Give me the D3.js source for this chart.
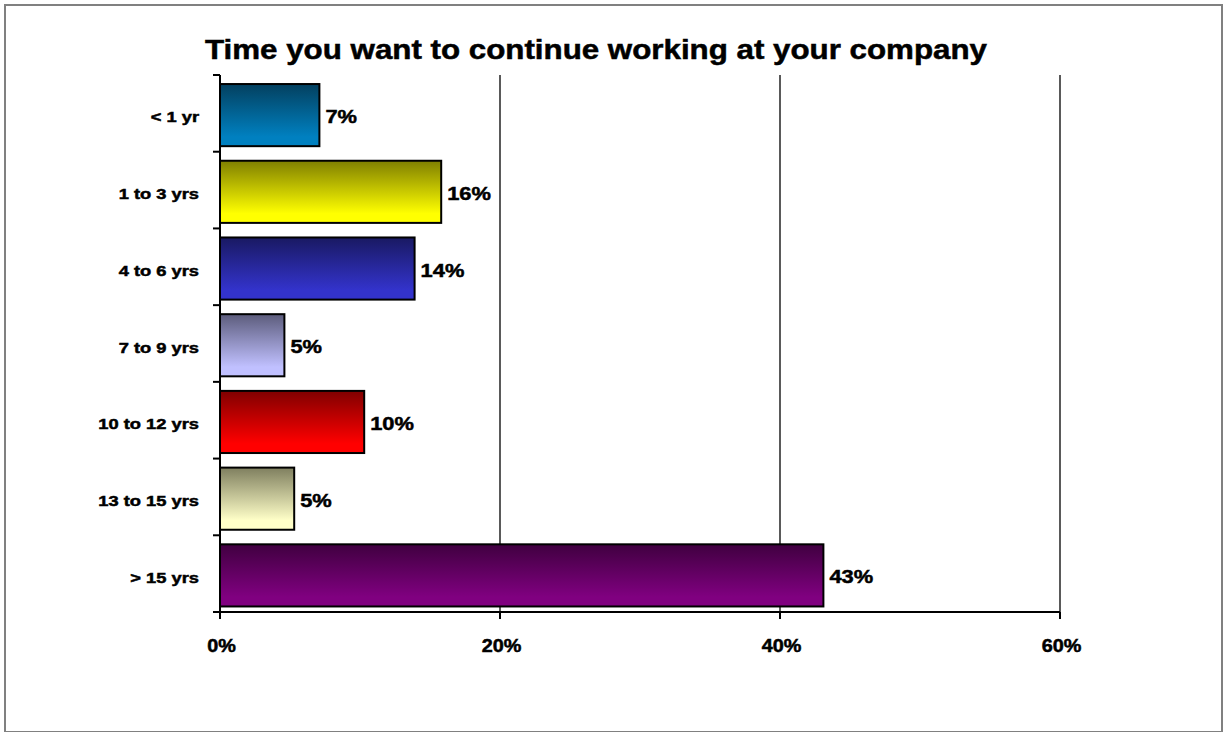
<!DOCTYPE html>
<html>
<head>
<meta charset="utf-8">
<script src="https://cdn.jsdelivr.net/npm/d3@7"></script>
<style>
  html, body { margin: 0; padding: 0; background: #fff; }
  svg { display: block; }
  text { font-family: "Liberation Sans", Arial, sans-serif; font-weight: bold; fill: #000; stroke: #000; stroke-width: 0.5px; }
</style>
</head>
<body>
<svg id="chart" width="1225" height="732"></svg>
<script>
// ---- data ----
const title = "Time you want to continue working at your company";
const categories = ["< 1 yr", "1 to 3 yrs", "4 to 6 yrs", "7 to 9 yrs", "10 to 12 yrs", "13 to 15 yrs", "> 15 yrs"];
const values = [7.1, 15.8, 13.9, 4.6, 10.3, 5.3, 43.1];
const topColors = ["#03405f", "#7f7f00", "#191962", "#5c5c7c", "#800000", "#7f7f5f", "#400040"];
const bottomColors = ["#0080c0", "#ffff00", "#3333cc", "#c0c0ff", "#ff0000", "#ffffc8", "#800080"];
const xTicks = [0, 20, 40, 60];
const xTickLabels = ["0%", "20%", "40%", "60%"];

// ---- layout ----
const plot = { left: 220, right: 1060, top: 75, bottom: 612 };

const svg = d3.select("#chart");

// outer frame
svg.append("rect")
  .attr("x", 5).attr("y", 5).attr("width", 1217).attr("height", 727)
  .attr("fill", "#fff").attr("stroke", "#808080").attr("stroke-width", 2);

const x = d3.scaleLinear().domain([0, 60]).range([plot.left, plot.right]);
const yOuter = d3.scaleBand().domain(categories).range([plot.top, plot.bottom]).padding(0);
const y = d3.scaleBand().domain(categories).range([plot.top, plot.bottom])
  .paddingInner(0.19).paddingOuter(0.095).align(0.62);

// gradients
const defs = svg.append("defs");
categories.forEach((c, i) => {
  const g = defs.append("linearGradient").attr("id", "g" + i)
    .attr("x1", 0).attr("y1", 0).attr("x2", 0).attr("y2", 1);
  g.append("stop").attr("offset", "0").attr("stop-color", topColors[i]);
  g.append("stop").attr("offset", "0.85").attr("stop-color", bottomColors[i]);
  g.append("stop").attr("offset", "1").attr("stop-color", bottomColors[i]);
});

// gridlines
svg.append("g").selectAll("line").data(xTicks.filter(t => t > 0)).join("line")
  .attr("x1", d => x(d)).attr("x2", d => x(d))
  .attr("y1", plot.top).attr("y2", plot.bottom)
  .attr("stroke", "#000").attr("stroke-width", 1.3);

// bars
svg.append("g").selectAll("rect").data(values).join("rect")
  .attr("x", x(0))
  .attr("y", (d, i) => y(categories[i]))
  .attr("width", d => x(d) - x(0))
  .attr("height", y.bandwidth())
  .attr("fill", (d, i) => `url(#g${i})`)
  .attr("stroke", "#000").attr("stroke-width", 2);

// value labels
svg.append("g").selectAll("text").data(values).join("text")
  .attr("transform", (d, i) => `translate(${x(d) + 6},${y(categories[i]) + y.bandwidth() / 2 + 8}) scale(1.15,1)`)
  .attr("font-size", 19)
  .text(d => d3.format(".0f")(d) + "%");

// y axis
const yAxis = svg.append("g");
yAxis.append("line")
  .attr("x1", plot.left).attr("x2", plot.left)
  .attr("y1", plot.top).attr("y2", plot.bottom)
  .attr("stroke", "#000").attr("stroke-width", 2);
const boundaries = categories.map(c => yOuter(c)).concat([plot.bottom]);
yAxis.selectAll("line.tick").data(boundaries).join("line").attr("class", "tick")
  .attr("x1", plot.left - 7).attr("x2", plot.left)
  .attr("y1", d => d).attr("y2", d => d)
  .attr("stroke", "#000").attr("stroke-width", 2);
yAxis.selectAll("text").data(categories).join("text")
  .attr("transform", d => `translate(199,${yOuter(d) + yOuter.bandwidth() / 2 + 9}) scale(1.22,1)`)
  .attr("text-anchor", "end")
  .attr("font-size", 15)
  .text(d => d);

// x axis
const xAxis = svg.append("g");
xAxis.append("line")
  .attr("x1", plot.left).attr("x2", plot.right)
  .attr("y1", plot.bottom).attr("y2", plot.bottom)
  .attr("stroke", "#000").attr("stroke-width", 2);
xAxis.selectAll("line.tick").data(xTicks).join("line").attr("class", "tick")
  .attr("x1", d => x(d)).attr("x2", d => x(d))
  .attr("y1", plot.bottom).attr("y2", plot.bottom + 7)
  .attr("stroke", "#000").attr("stroke-width", 2);
xAxis.selectAll("text").data(xTicks).join("text")
  .attr("transform", (d, i) => `translate(${x(d) + 1.5},652) scale(1.1,1)`)
  .attr("text-anchor", "middle")
  .attr("font-size", 18)
  .text((d, i) => xTickLabels[i]);

// title
svg.append("text")
  .attr("transform", `translate(596,59) scale(1.16,1)`)
  .attr("text-anchor", "middle")
  .attr("font-size", 27)
  .text(title);
</script>
</body>
</html>
